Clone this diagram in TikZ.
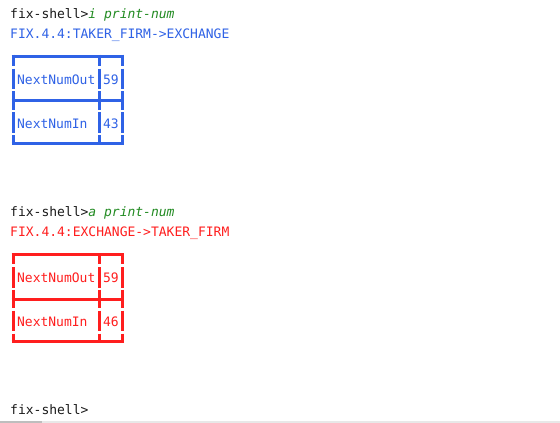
\documentclass[tikz,border=0pt]{standalone}
\usepackage{fontspec}
\setmonofont{DejaVu Sans Mono}
\definecolor{fixblue}{HTML}{2F62E6}
\definecolor{fixred}{HTML}{FF1E1E}
\definecolor{fixgreen}{HTML}{228B22}
\definecolor{fixblack}{HTML}{1A1A1A}
\definecolor{sbtrack}{HTML}{E8E8E8}
\definecolor{sbthumb}{HTML}{BEBEBE}
\tikzset{
  term/.style={anchor=base west, inner sep=0pt, font=\fontsize{13}{15}\selectfont\ttfamily},
  boxline/.style={line width=3pt},
}
\newcommand\tablebox[4]{% #1 y offset, #2 colour, #3 second value, #4 name prefix
  \begin{scope}[shift={(0,#1)}]
    \foreach \yy in {56,100.5,143}
      \draw[boxline,#2] (11.5,\yy) -- (124,\yy);
    \foreach \xx in {13,99,122.5}
      \foreach \ya/\yb in {54.5/65.5,68.5/89,91/109.5,112/132.5,135/144.5}
        \draw[boxline,#2] (\xx,\ya) -- (\xx,\yb);
    \node[term,text=#2] (#4a) at (16.9,84) {NextNumOut};
    \node[term,text=#2] (#4b) at (102.9,84) {59};
    \node[term,text=#2] (#4c) at (16.9,128) {NextNumIn};
    \node[term,text=#2] (#4d) at (102.9,128) {#3};
  \end{scope}}
\begin{document}
\begin{tikzpicture}[x=1pt,y=-1pt]
  \useasboundingbox (0,0) rectangle (560,423);
  \fill[white] (0,0) rectangle (560,423);
  % first command
  \node[term,text=fixblack] (cmd1) at (10,18.3) {fix-shell>\textcolor{fixgreen}{\itshape i print-num}};
  \node[term,text=fixblue] (hdr1) at (10,38.5) {FIX.4.4:TAKER\_FIRM->EXCHANGE};
  \tablebox{0}{fixblue}{43}{t}
  % second command
  \node[term,text=fixblack] (cmd2) at (10,216.3) {fix-shell>\textcolor{fixgreen}{\itshape a print-num}};
  \node[term,text=fixred] (hdr2) at (10,236.5) {FIX.4.4:EXCHANGE->TAKER\_FIRM};
  \tablebox{198.5}{fixred}{46}{u}
  % prompt
  \node[term,text=fixblack] (cmd3) at (10,414) {fix-shell>};
  % scrollbar
  \fill[sbtrack] (0,420.5) rectangle (560,423);
  \fill[sbthumb] (0,420.5) rectangle (42,423);
\end{tikzpicture}
\end{document}
